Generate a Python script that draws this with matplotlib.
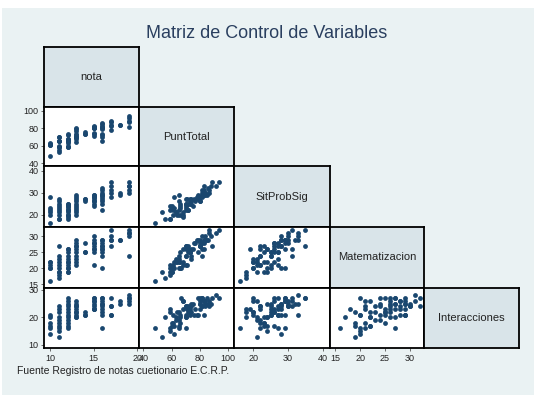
import matplotlib
matplotlib.use("Agg")
import matplotlib.pyplot as plt
from matplotlib.patches import Rectangle

plt.rcParams["font.family"] = ["Liberation Sans", "DejaVu Sans"]

# --- data (one entry per student) ---
nota = [10] * 6 + [11] * 10 + [12] * 12 + [13] * 10 + [14] * 3 + [15] * 9 + [16] * 10 + [17] * 5 + [18] * 2 + [19] * 5
sit_prob_sig = [16, 21, 22, 28, 20, 23,
                18, 21, 24, 26, 22, 27, 20, 25, 18, 23,
                18, 20, 22, 24, 25, 19, 21, 23, 25, 20, 22, 24,
                20, 22, 24, 26, 28, 29, 21, 25, 27, 23,
                27, 26, 27,
                25, 26, 28, 29, 27, 24, 28, 26, 29,
                29, 26, 28, 30, 32, 25, 27, 31, 22, 29,
                28, 31, 35, 30, 33,
                30, 29,
                33, 35, 31, 30, 33]
matematizacion = [16, 22, 21, 20, 20, 22,
                  17, 19, 20, 22, 24, 27, 23, 21, 18, 19,
                  19, 20, 21, 22, 24, 26, 23, 25, 20, 22, 26, 19,
                  22, 24, 26, 28, 27, 29, 21, 25, 23, 27,
                  28, 25, 25,
                  25, 27, 30, 28, 21, 26, 29, 28, 26,
                  20, 26, 27, 28, 29, 24, 25, 26, 27, 29,
                  29, 32, 27, 30, 29,
                  29, 29,
                  31, 32, 24, 31, 30]
interacciones = [16, 20, 18, 14, 21, 17,
                 20, 13, 15, 17, 19, 16, 22, 24, 23, 18,
                 22, 27, 16, 20, 25, 23, 19, 18, 21, 26, 24, 17,
                 22, 24, 20, 23, 25, 21, 26, 22, 24, 20,
                 21, 22, 21,
                 23, 27, 24, 26, 23, 25, 23, 26, 27,
                 16, 22, 25, 24, 25, 21, 27, 26, 23, 27,
                 21, 24, 27, 24, 21,
                 25, 26,
                 28, 27, 27, 26, 25]
punt_total = [48, 63, 61, 62, 61, 62,
              55, 53, 59, 65, 65, 70, 65, 70, 59, 60,
              59, 67, 59, 66, 74, 68, 63, 66, 66, 68, 72, 60,
              64, 70, 70, 77, 80, 79, 68, 72, 74, 70,
              76, 73, 73,
              73, 80, 82, 83, 71, 75, 80, 80, 82,
              65, 74, 80, 82, 86, 70, 79, 83, 72, 85,
              78, 87, 89, 84, 83,
              84, 84,
              92, 94, 82, 87, 88]

var_names = ["nota", "PuntTotal", "SitProbSig", "Matematizacion", "Interacciones"]
var_data = [nota, punt_total, sit_prob_sig, matematizacion, interacciones]
var_ticks = [[10, 15, 20], [40, 60, 80, 100], [20, 30, 40], [15, 20, 25, 30], [10, 20, 30]]
var_lims = [(9.3, 20.2), (36.8, 104.5), (14.4, 42.1), (13.9, 32.9), (8.9, 30.7)]

# --- layout in pixels ---
W, H = 534, 400
col_edges = [44, 139, 234, 330, 424, 519]
row_edges = [47, 107, 166, 227, 288, 348]

BG = "#eaf2f3"
DIAG = "#d9e4e9"
MARK = "#1a476f"

fig = plt.figure(figsize=(W / 100, H / 100), dpi=100, facecolor="white")
fig.patches.append(Rectangle((2 / W, 1 - 395 / H), 532 / W, 387 / H,
                             transform=fig.transFigure, facecolor=BG,
                             edgecolor="none", zorder=-10))


def px_axes(x0, x1, y0, y1):
    return fig.add_axes([x0 / W, 1 - y1 / H, (x1 - x0) / W, (y1 - y0) / H])


n = len(var_names)
for i in range(n):
    for j in range(i + 1):
        ax = px_axes(col_edges[j], col_edges[j + 1], row_edges[i], row_edges[i + 1])
        for s in ax.spines.values():
            s.set_linewidth(1.3)
            s.set_color("black")
        ax.tick_params(length=2.5, width=0.6, color="#555555", labelsize=6.5,
                       labelcolor="#222222", pad=1.5)
        if i == j:
            ax.set_facecolor(DIAG)
            ax.text(0.5, 0.5, var_names[i], ha="center", va="center",
                    fontsize=8, color="#222222", transform=ax.transAxes)
            ax.set_xticks([])
            ax.set_yticks([])
            continue
        ax.set_facecolor("white")
        ax.scatter(var_data[j], var_data[i], s=12, color=MARK, linewidths=0, zorder=3)
        ax.set_xlim(*var_lims[j])
        ax.set_ylim(*var_lims[i])
        if i == n - 1:
            ax.set_xticks(var_ticks[j])
        else:
            ax.set_xticks([])
        if j == 0:
            ax.set_yticks(var_ticks[i])
        else:
            ax.set_yticks([])

fig.text(267 / W, 1 - 33 / H, "Matriz de Control de Variables", ha="center", va="center",
         fontsize=13, color="#2a3f5f")
fig.text(17 / W, 1 - 371 / H, "Fuente Registro de notas cuetionario E.C.R.P.",
         ha="left", va="center", fontsize=7.5, color="#222222")

fig.savefig("out.png", dpi=100, facecolor="white")
